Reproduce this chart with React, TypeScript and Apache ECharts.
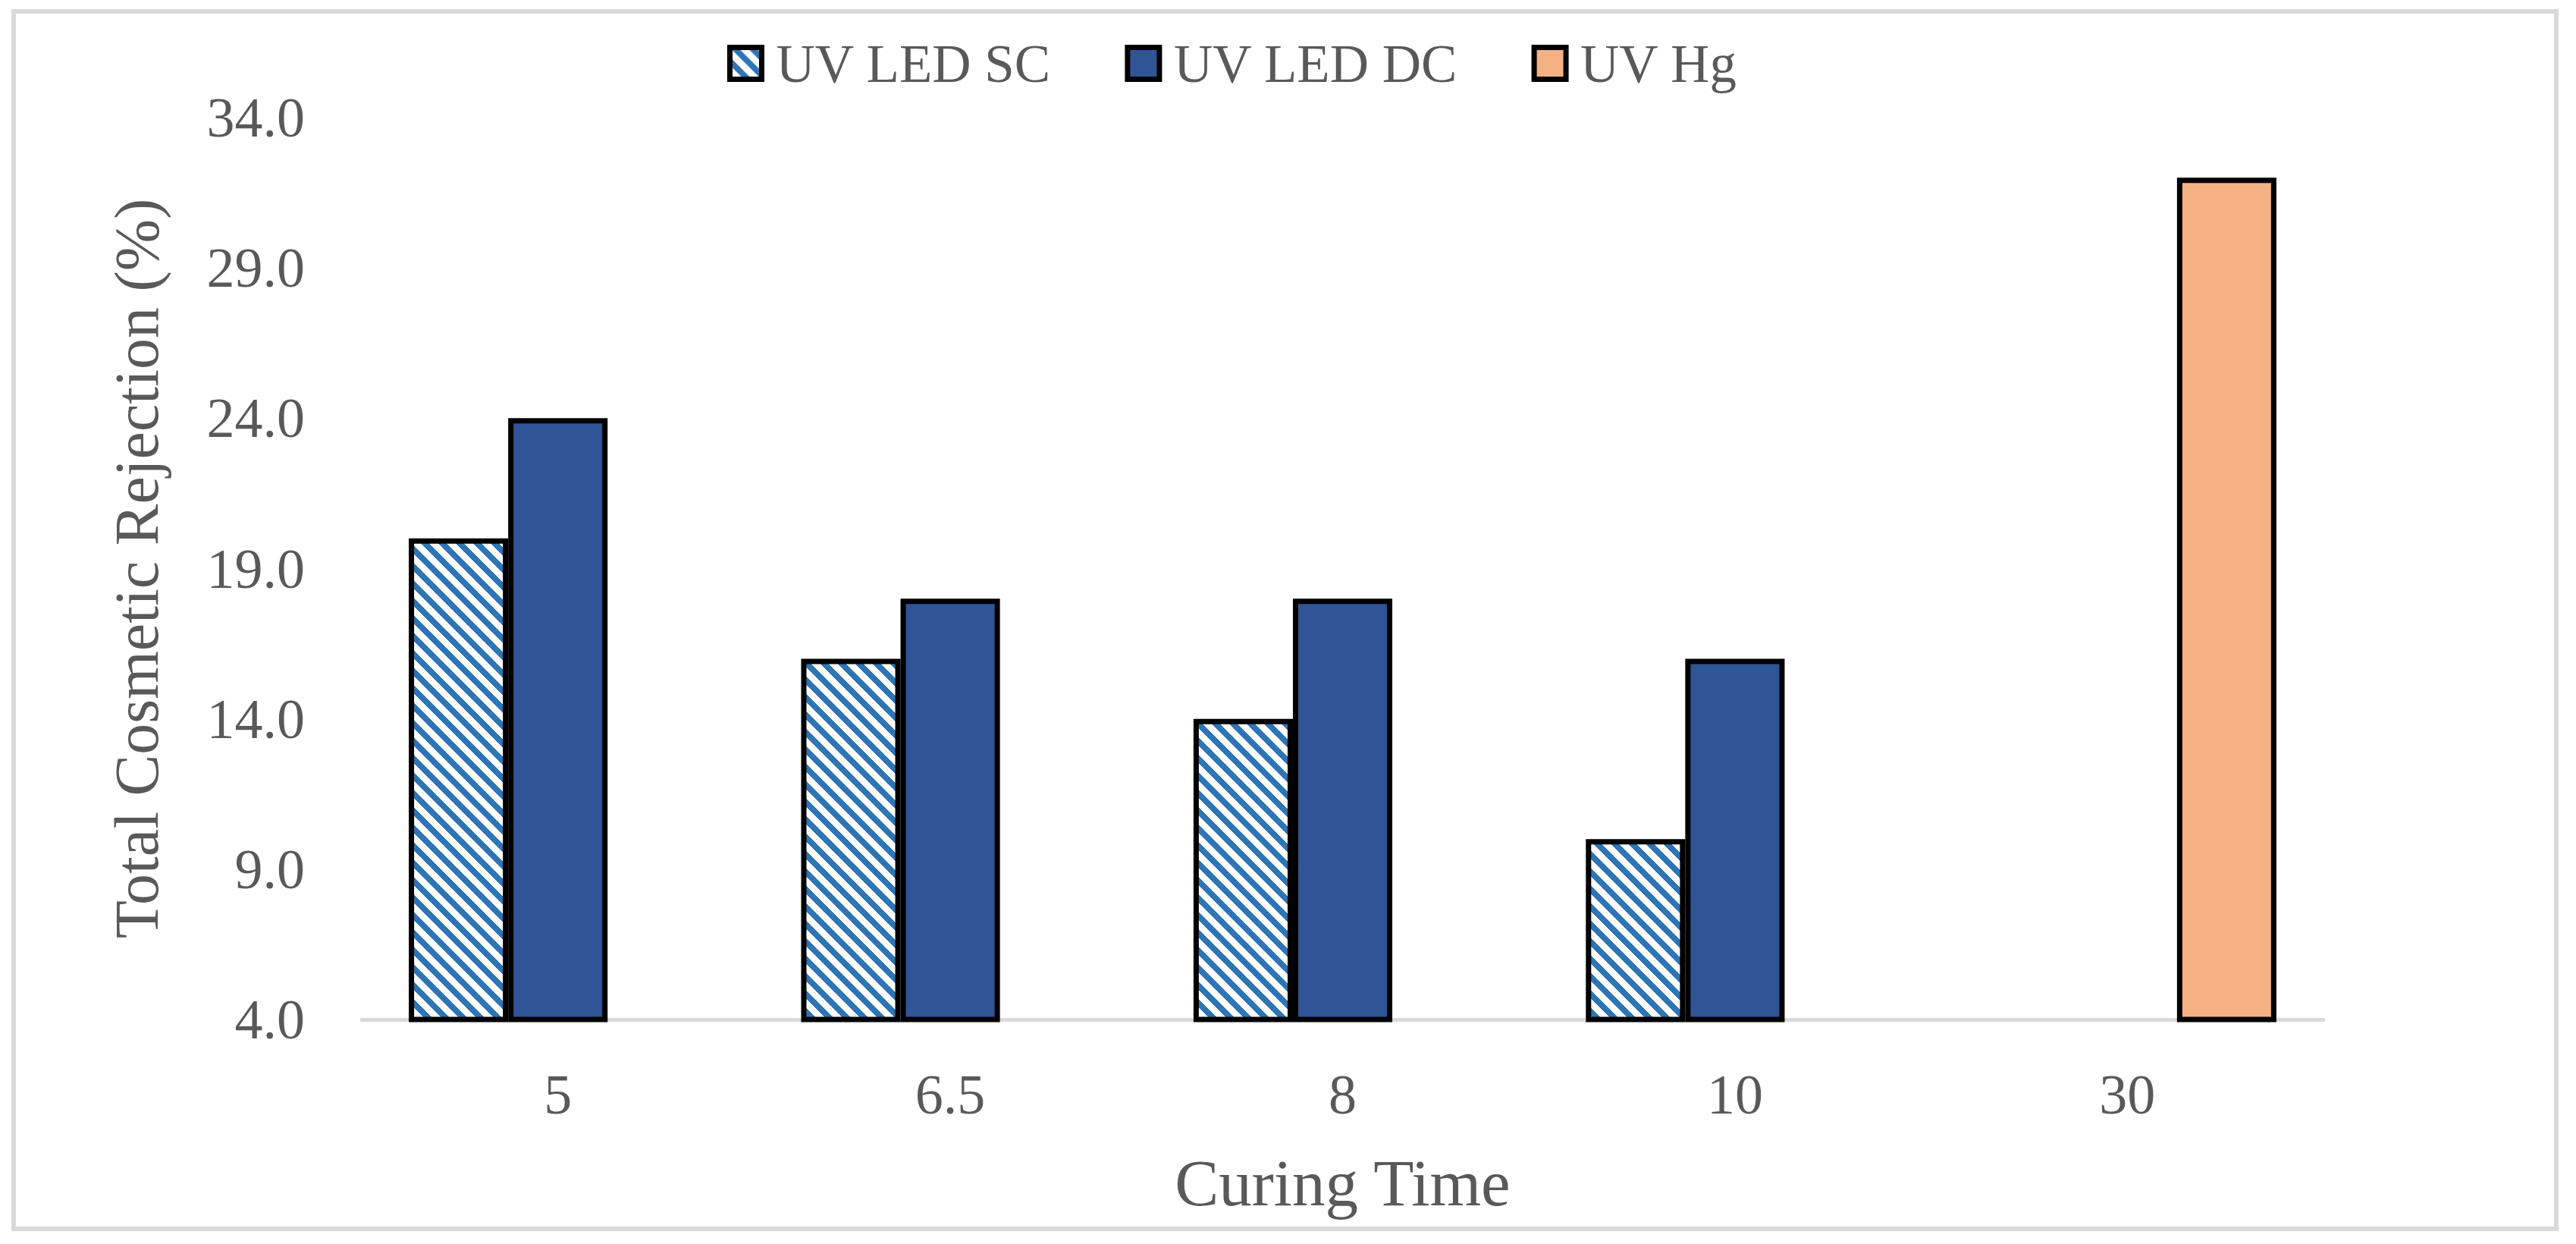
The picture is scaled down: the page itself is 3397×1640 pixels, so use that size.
import React, { useEffect, useRef } from "react";
import * as echarts from "echarts";

const categories = ["5", "6.5", "8", "10", "30"];
const seriesNames = ["UV LED SC", "UV LED DC", "UV Hg"];
const scValues = [20, 16, 14, 10, "-"];
const dcValues = [24, 18, 18, 16, "-"];
const hgValues = ["-", "-", "-", "-", 32];
const yMin = 4;
const yMax = 34;
const yStep = 5;

const FONT = "'Liberation Serif', 'Times New Roman', serif";
const TEXT = "#595959";

function makeStripes() {
  const size = 23;
  const c = document.createElement("canvas");
  c.width = size;
  c.height = size;
  const ctx = c.getContext("2d")!;
  ctx.fillStyle = "#ffffff";
  ctx.fillRect(0, 0, size, size);
  ctx.fillStyle = "#2E75B6";
  for (let y = 0; y < size; y++) {
    for (let x = 0; x < size; x++) {
      if (((x - y + size * 2) % size) < 11) ctx.fillRect(x, y, 1, 1);
    }
  }
  return c;
}

export default function App() {
  const ref = useRef<HTMLDivElement>(null);
  useEffect(() => {
    document.body.style.margin = "0";
    const chart = echarts.init(ref.current!, null, { renderer: "svg" });
    const stripes = makeStripes();
    const border = { borderColor: "#000000", borderWidth: 7 };
    chart.setOption({
      animation: false,
      backgroundColor: "#ffffff",
      graphic: [
        {
          type: "rect",
          shape: { x: 18, y: 15, width: 3353, height: 1605 },
          style: { fill: "none", stroke: "#d9d9d9", lineWidth: 6 },
          silent: true,
        },
      ],
      legend: {
        left: 954,
        top: 43,
        icon: "rect",
        itemWidth: 42,
        itemHeight: 42,
        itemGap: 97,
        itemStyle: { borderColor: "#000000", borderWidth: 7 },
        textStyle: {
          fontFamily: FONT,
          fontSize: 71,
          lineHeight: 70,
          color: TEXT,
          padding: [0, 0, 0, 14],
        },
        data: seriesNames,
      },
      grid: { left: 477, right: 333, top: 155, bottom: 296, containLabel: false },
      xAxis: {
        type: "category",
        data: categories,
        name: "Curing Time",
        nameLocation: "middle",
        nameGap: 172,
        nameTextStyle: { fontFamily: FONT, fontSize: 87, color: TEXT, lineHeight: 87 },
        axisLine: { lineStyle: { color: "#d9d9d9", width: 5 } },
        axisTick: { show: false },
        axisLabel: { fontFamily: FONT, fontSize: 74, color: TEXT, margin: 62, lineHeight: 74 },
      },
      yAxis: {
        type: "value",
        min: yMin,
        max: yMax,
        interval: yStep,
        name: "Total Cosmetic Rejection (%)",
        nameLocation: "middle",
        nameRotate: 90,
        nameGap: 256,
        nameTextStyle: { fontFamily: FONT, fontSize: 82, color: TEXT, lineHeight: 82 },
        axisLine: { show: false },
        axisTick: { show: false },
        splitLine: { show: false },
        axisLabel: {
          fontFamily: FONT,
          fontSize: 74,
          color: TEXT,
          margin: 75,
          formatter: (v: number) => v.toFixed(1),
        },
      },
      series: [
        {
          name: seriesNames[0],
          type: "bar",
          data: scValues,
          barGap: "0%",
          barCategoryGap: "24%",
          itemStyle: { color: { image: stripes, repeat: "repeat" }, ...border },
        },
        {
          name: seriesNames[1],
          type: "bar",
          data: dcValues,
          barGap: "0%",
          barCategoryGap: "24%",
          itemStyle: { color: "#2F5597", ...border },
        },
        {
          name: seriesNames[2],
          type: "bar",
          data: hgValues,
          barGap: "0%",
          barCategoryGap: "24%",
          itemStyle: { color: "#F4B183", ...border },
        },
      ],
    });
    return () => chart.dispose();
  }, []);
  return (
    <div
      ref={ref}
      style={{ position: "fixed", left: 0, top: 0, width: 3397, height: 1640 }}
    />
  );
}
